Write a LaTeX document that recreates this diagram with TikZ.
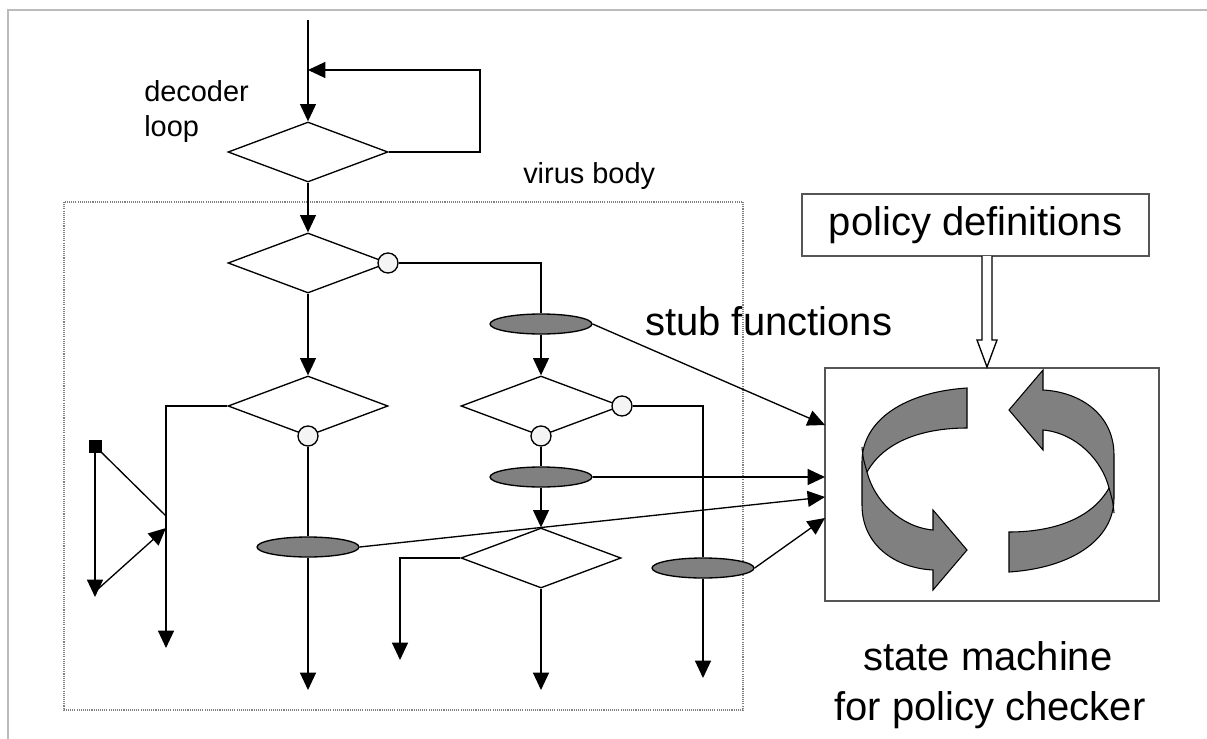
\documentclass[tikz,border=0pt]{standalone}
\usepackage{fontspec}
\setmainfont{Liberation Sans}
\usetikzlibrary{shapes.geometric,arrows.meta}
\definecolor{ellgray}{HTML}{808080}
\definecolor{circfill}{HTML}{F4F4F4}
\definecolor{framegray}{HTML}{BBBBBB}
\definecolor{boxgray}{HTML}{555555}
\tikzset{
  flow/.style={line width=1pt},
  arr/.style={flow,-{Triangle[length=13pt,width=12pt]}},
  dia/.style={diamond,draw,flow,minimum width=120pt,minimum height=45pt,inner sep=0pt,fill=white},
  stub/.style={ellipse,draw,flow,fill=ellgray,minimum width=76.5pt,minimum height=15pt,inner sep=0pt},
  port/.style={circle,draw,flow,fill=circfill,minimum size=15pt,inner sep=0pt},
  smalltxt/.style={font=\fontsize{21.7}{26}\selectfont,inner sep=0pt},
  bigtxt/.style={font=\fontsize{30}{36}\selectfont,inner sep=0pt},
  ribbon/.style={draw,line width=0.8pt,fill=ellgray}
}
\begin{document}
\begin{tikzpicture}[x=0.75pt,y=-0.75pt]
\useasboundingbox (0,0) rectangle (1207,739);
% outer frame
\draw[framegray,line width=1.3pt] (8,739) -- (8,10) -- (1207,10);
% virus body
\draw[gray,line width=0.8pt,dash pattern=on 0.8pt off 0.8pt] (64,202) rectangle (743,710);
\node[smalltxt,anchor=base west] (vb) at (523,183) {virus body};
\node[smalltxt,anchor=base west] (dec) at (144,101) {decoder};
\node[smalltxt,anchor=base west] (loop) at (144,136) {loop};

% diamonds
\node[dia] (d1) at (308,152) {};
\node[dia] (d2) at (308,263) {};
\node[dia] (d3) at (308,406) {};
\node[dia] (d4) at (541,406) {};
\node[dia] (d5) at (541,558) {};
% ellipses
\node[stub] (e1) at (541,324) {};
\node[stub] (e2) at (541,477) {};
\node[stub] (e3) at (308,547) {};
\node[stub] (e4) at (703,568) {};
% ports
\node[port] (c1) at (388,263) {};
\node[port] (c2) at (622,406) {};
\node[port] (c3) at (541,436) {};
\node[port] (c4) at (308,436) {};
% square
\node[draw,fill=black,minimum size=9pt,inner sep=0pt] (sq) at (95,446) {};

% coordinates
\coordinate (start) at (308,20);
\coordinate (lp) at (308,70);
\coordinate (o1) at (166,648);
\coordinate (o2) at (308,690);
\coordinate (o3) at (400,660);
\coordinate (o4) at (541,690);
\coordinate (o5) at (703,678);
\coordinate (o6) at (95,597);
\coordinate (j1) at (166,516);
\coordinate (j2) at (166,528);
\coordinate (j0) at (98,589);
\coordinate (t1) at (825,425);
\coordinate (t2) at (825,477);
\coordinate (t3) at (825,497);
\coordinate (t4) at (825,518);

% state machine and policy
\node[draw=boxgray,line width=0.9pt,minimum width=250.5pt,minimum height=174.75pt,inner sep=0pt] (sm) at (992,484.5) {};
\node[draw=boxgray,line width=0.9pt,minimum width=260.25pt,minimum height=46.5pt,inner sep=0pt,bigtxt] (pol) at (975.5,225) {policy definitions};
\draw[flow,fill=white] (982,256) -- (982,340) -- (977,340) -- (987,367) -- (997,340) -- (992,340) -- (992,256);

\node[bigtxt,anchor=base west] (stubt) at (645,335) {stub functions};
\node[bigtxt,anchor=base] (sm1) at (988,670) {state machine};
\node[bigtxt,anchor=base] (sm2) at (990,720) {for policy checker};

% connectors
\draw[arr] (start) -- (d1.north);
\draw[arr] (d1.east) -- (480,152) -- (480,70) -- (lp);
\draw[arr] (d1.south) -- (d2.north);
\draw[flow] (c1.east) -| (e1.north);
\draw[arr] (e1.south) -- (d4.north);
\draw[arr] (e1.east) -- (t1);
\draw[flow] (c2.east) -| (e4.north);
\draw[arr] (e4.south) -- (o5);
\draw[arr] (e4.east) -- (t4);
\draw[flow] (c3.south) -- (e2.north);
\draw[arr] (e2.east) -- (t2);
\draw[arr] (e2.south) -- (d5.north);
\draw[arr] (d5.west) -| (o3);
\draw[arr] (d5.south) -- (o4);
\draw[arr] (d2.south) -- (d3.north);
\draw[arr] (d3.west) -| (o1);
\draw[flow] (c4.south) -- (e3.north);
\draw[arr] (e3.south) -- (o2);
\draw[arr] (e3.east) -- (t3);
\draw[arr] (sq.south) -- (o6);
\draw[flow] (sq.center) -- (j1);
\draw[arr] (j0) -- (j2);

% circular arrows
\begin{scope}
\path[ribbon] (967,388) .. controls (905,392) and (862,420) .. (862,462) -- (862,505) .. controls (862,545) and (895,568) .. (933,570) -- (933,590) -- (967,550) -- (933,510) -- (933,530) .. controls (900,527) and (874,500) .. (867,472) .. controls (885,440) and (925,428) .. (967,428) -- cycle;
\draw[line width=0.8pt] (862,447) .. controls (863,458) .. (867,472);
\end{scope}
\begin{scope}[rotate around={180:(988,480)}]
\path[ribbon] (967,388) .. controls (905,392) and (862,420) .. (862,462) -- (862,505) .. controls (862,545) and (895,568) .. (933,570) -- (933,590) -- (967,550) -- (933,510) -- (933,530) .. controls (900,527) and (874,500) .. (867,472) .. controls (885,440) and (925,428) .. (967,428) -- cycle;
\draw[line width=0.8pt] (862,447) .. controls (863,458) .. (867,472);
\end{scope}
\end{tikzpicture}
\end{document}
